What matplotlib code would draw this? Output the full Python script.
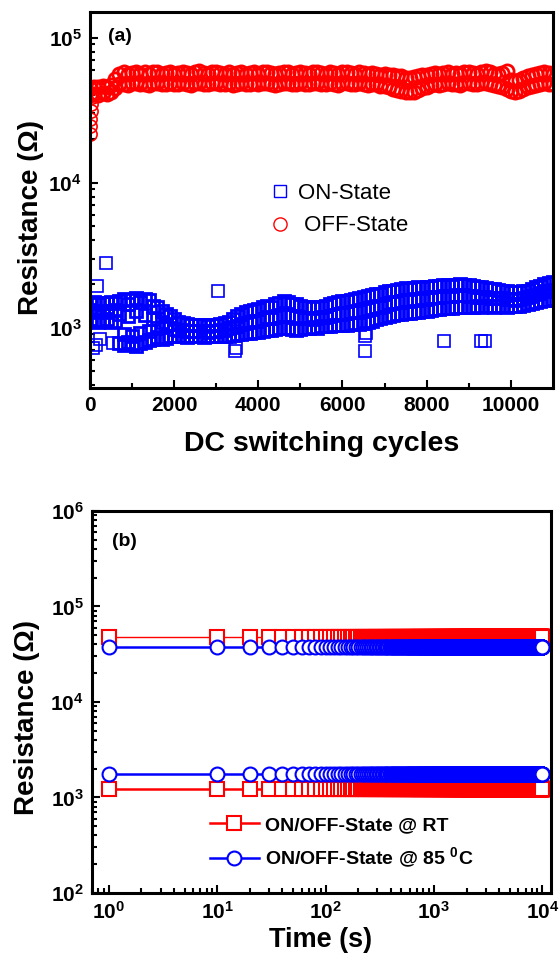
import numpy as np
import matplotlib
matplotlib.use('Agg')
import matplotlib.pyplot as plt
from matplotlib.ticker import FixedLocator, FuncFormatter, LogLocator, NullFormatter

plt.rcParams['font.family'] = ['Liberation Sans', 'DejaVu Sans']
plt.rcParams['mathtext.fontset'] = 'custom'
plt.rcParams['mathtext.rm'] = 'Liberation Sans:bold'
plt.rcParams['mathtext.bf'] = 'Liberation Sans:bold'
plt.rcParams['mathtext.it'] = 'Liberation Sans:bold'

# ---- (a) DC endurance, read every 100 cycles (upper / middle / lower part of the band)
cycles = np.arange(0, 11001, 100)

on_hi = [1480, 1500, 1460, 1490, 1470, 1500, 1480,
         1520, 1580, 1450, 1560, 1600, 1500, 1580, 1550,
         1420, 1380, 1300, 1250, 1200,
         1150, 1100, 1080, 1060, 1050, 1040, 1050, 1040, 1030, 1040, 1050, 1060, 1080,
         1100, 1150, 1200, 1250, 1280, 1300, 1320, 1350,
         1380, 1420, 1400, 1450, 1480, 1520, 1500, 1460, 1450, 1420,
         1400, 1380, 1370, 1390, 1400, 1420, 1450, 1480, 1500, 1520,
         1540, 1560, 1580, 1600, 1620, 1650, 1680, 1700, 1720, 1750,
         1780, 1800, 1820, 1850, 1870, 1860, 1880, 1900, 1880, 1900,
         1920, 1950, 1940, 1960, 1980, 1950, 1970, 2000, 1980, 1960,
         1940, 1920, 1900, 1880, 1860, 1840, 1820, 1800, 1780, 1760,
         1750, 1760, 1780, 1800, 1850, 1900, 1950, 2000, 2020, 2050]
on_mid = [1320, 1300, 1280, 1310, 1290, 1300, 1320,
          1250, 900, 1200, 880, 1300, 920, 1220, 950,
          1150, 1000, 1100, 1040, 1060,
          980, 970, 960, 955, 950, 945, 950, 945, 940, 950, 955, 960, 970,
          990, 1010, 1030, 1060, 1080, 1100, 1110, 1120,
          1150, 1180, 1170, 1190, 1210, 1230, 1220, 1200, 1190, 1180,
          1170, 1160, 1150, 1170, 1180, 1190, 1200, 1220, 1240, 1250,
          1260, 1280, 1290, 1300, 1320, 1340, 1360, 1380, 1400, 1420,
          1480, 1500, 1510, 1530, 1550, 1560, 1570, 1580, 1590, 1600,
          1620, 1640, 1630, 1650, 1660, 1650, 1670, 1680, 1670, 1660,
          1650, 1640, 1630, 1620, 1610, 1600, 1600, 1590, 1580, 1570,
          1560, 1570, 1590, 1620, 1660, 1700, 1740, 1780, 1800, 1820]
on_lo = [1150, 1120, 1100, 1130, 1140, 1100, 1120,
         780, 760, 800, 770, 750, 790, 800, 820,
         840, 860, 830, 850, 870,
         880, 870, 870, 860, 870, 880, 870, 860, 870, 880, 870, 880, 880,
         880, 890, 900, 910, 920, 920, 930, 940,
         950, 970, 960, 980, 990, 1000, 990, 980, 970, 980,
         990, 1000, 1010, 1000, 1020, 1030, 1020, 1040, 1050, 1040,
         1050, 1060, 1070, 1060, 1080, 1100, 1120, 1140, 1160, 1180,
         1200, 1220, 1240, 1250, 1260, 1270, 1280, 1290, 1300, 1310,
         1330, 1340, 1350, 1360, 1370, 1360, 1380, 1390, 1400, 1390,
         1400, 1410, 1400, 1420, 1410, 1400, 1410, 1420, 1400, 1410,
         1410, 1420, 1430, 1450, 1480, 1500, 1520, 1550, 1560, 1580]

# stray ON-state points
on_out_cycles = [60, 150, 240, 540, 165, 380, 3050, 3440, 3460, 6540, 6540, 6560, 8410, 9300, 9390]
on_out_values = [720, 760, 830, 790, 1950, 2800, 1800, 690, 720, 690, 880, 920, 815, 815, 815]

off_hi = [45000, 46000, 45500, 46500, 46000, 47000,
          52000,
          56500, 57500, 56000, 57000, 58000, 56500, 57500, 56000, 57500, 58000, 56500, 57000, 58000,
          56500, 57000, 58000, 57000, 56000, 57500, 58500, 57000, 56500, 57500,
          58000, 57000, 56500, 57500, 56000, 57000, 58000, 56500, 57000, 57500,
          56500, 57500, 58000, 57000, 56000, 57000, 58000, 57500, 56500, 57000,
          58000, 57000, 56500, 57500, 58000, 57000, 56500, 57500, 57000, 56000,
          57500, 58000, 57000, 56500, 57500, 57000, 56000, 57000, 56500, 55500,
          56000, 55000, 55500, 54500, 54000, 53000, 52500, 53500, 54000, 55000,
          55500, 56500, 57000, 56000, 57000, 57500, 56500, 57000, 56000, 57500,
          58000, 57000, 56500, 57500, 58500, 57500, 56000, 56500, 57000, 58500,
          51000, 50000, 51000, 52500, 54000, 55500, 56500, 57000, 57500, 57000, 56000]
off_lo = [40000, 41000, 40500, 41500, 41000, 42000,
          45000,
          47500, 48000, 47000, 48500, 49000, 47500, 48000, 47000, 48500, 49000, 47500, 48000, 48500,
          47500, 48000, 49000, 48000, 47000, 48500, 49000, 48000, 47500, 48500,
          49000, 48000, 47500, 48500, 47000, 48000, 49000, 47500, 48000, 48500,
          47500, 48500, 49000, 48000, 47000, 48000, 49000, 48500, 47500, 48000,
          49000, 48000, 47500, 48500, 49000, 48000, 47500, 48500, 48000, 47000,
          48500, 49000, 48000, 47500, 48500, 48000, 47000, 48000, 47500, 46500,
          46500, 45500, 44500, 43500, 43000, 42500, 42000, 42500, 43500, 45000,
          46000, 47000, 48000, 47000, 48000, 48500, 47500, 48000, 47000, 48500,
          49000, 48000, 47500, 48500, 49000, 48000, 47000, 46500, 45500, 44500,
          43000, 42500, 43000, 44000, 45500, 46500, 47000, 48000, 48500, 48000, 47500]

# first cycles of the OFF state (forming transient)
off_start_cycles = [0, 5, 10, 20, 30, 50]
off_start_values = [21500, 24500, 27500, 31000, 35000, 39000]

# ---- (b) retention
ret_time = np.concatenate([[1], np.arange(10, 10001, 10)])
rt_off_level = 48000
rt_on_level = 1230
ht_off_level = 38000
ht_on_level = 1780


def pow10_label(v, pos):
    return r'$10^{%d}$' % int(round(np.log10(v)))


def style_axis(ax):
    for sp in ax.spines.values():
        sp.set_linewidth(2.2)
    ax.tick_params(which='both', direction='in', top=False, right=False, width=1.5, labelsize=15)
    ax.tick_params(which='major', length=6, pad=6)
    ax.tick_params(which='minor', length=3.5)
    for lab in ax.get_xticklabels() + ax.get_yticklabels():
        lab.set_fontweight('bold')


fig = plt.figure(figsize=(5.59, 9.6), dpi=100)

# panel (a)
ax1 = fig.add_axes([0.161, 0.596, 0.828, 0.391])
ax1.set_yscale('log')
sq = dict(ls='none', marker='s', ms=8.5, mfc='none', mec='blue', mew=2.0)
ci = dict(ls='none', marker='o', ms=9.5, mfc='none', mec='red', mew=2.0)
ax1.plot(cycles, on_mid, label='ON-State', **sq)
ax1.plot(cycles, on_hi, **sq)
ax1.plot(cycles, on_lo, **sq)
ax1.plot(on_out_cycles, on_out_values, ls='none', marker='s', ms=8.5,
         mfc='none', mec='blue', mew=1.2)
ax1.plot(cycles, off_hi, label=' OFF-State', **ci)
ax1.plot(cycles, off_lo, **ci)
ax1.plot(off_start_cycles, off_start_values, ls='none', marker='o', ms=9.5,
         mfc='none', mec='red', mew=1.2)

ax1.set_xlim(0, 11000)
ax1.set_ylim(385, 1.49e5)
ax1.xaxis.set_major_locator(FixedLocator([0, 2000, 4000, 6000, 8000, 10000]))
ax1.xaxis.set_minor_locator(FixedLocator([1000, 3000, 5000, 7000, 9000]))
ax1.yaxis.set_major_locator(LogLocator(base=10))
ax1.yaxis.set_minor_locator(LogLocator(base=10, subs=np.arange(2, 10)))
ax1.yaxis.set_major_formatter(FuncFormatter(pow10_label))
ax1.yaxis.set_minor_formatter(NullFormatter())
style_axis(ax1)

ax1.set_xlabel('DC switching cycles', fontsize=20.5, fontweight='bold')
ax1.xaxis.set_label_coords(0.5, -0.115)
ax1.set_ylabel('Resistance (\u03a9)', fontsize=20, fontweight='bold')
ax1.yaxis.set_label_coords(-0.10, 0.453)
ax1.text(0.039, 0.936, '(a)', transform=ax1.transAxes, fontsize=14,
         fontweight='bold', va='center', ha='left')
leg1 = ax1.legend(loc='upper left', bbox_to_anchor=(0.387, 0.545), frameon=False,
                  prop={'size': 16}, handlelength=1.0, handletextpad=0.3,
                  borderpad=0, borderaxespad=0, labelspacing=0.5, numpoints=1)
for h in leg1.legend_handles:
    h.set_markeredgewidth(1.0)

# panel (b)
ax2 = fig.add_axes([0.1646, 0.0698, 0.821, 0.398])
ax2.set_xscale('log')
ax2.set_yscale('log')
rs = dict(marker='s', ms=9.5, mfc='white', mec='red', mew=1.5, color='red')
bc = dict(marker='o', ms=10, mfc='white', mec='blue', mew=1.5, color='blue')
ax2.plot(ret_time, np.full(len(ret_time), rt_off_level), lw=1.0, **rs)
ax2.plot(ret_time, np.full(len(ret_time), rt_on_level), lw=1.8,
         label='ON/OFF-State @ RT', **rs)
ax2.plot(ret_time, np.full(len(ret_time), ht_off_level), lw=1.8, **bc)
ax2.plot(ret_time, np.full(len(ret_time), ht_on_level), lw=1.8,
         label=r'ON/OFF-State @ 85 $^{0}$C', **bc)

ax2.set_xlim(0.7, 1.2e4)
ax2.set_ylim(1e2, 1e6)
for axis in (ax2.xaxis, ax2.yaxis):
    axis.set_major_locator(LogLocator(base=10))
    axis.set_minor_locator(LogLocator(base=10, subs=np.arange(2, 10)))
    axis.set_major_formatter(FuncFormatter(pow10_label))
    axis.set_minor_formatter(NullFormatter())
style_axis(ax2)

ax2.set_xlabel('Time (s)', fontsize=19.5, fontweight='bold')
ax2.xaxis.set_label_coords(0.497, -0.088)
ax2.set_ylabel('Resistance (\u03a9)', fontsize=20, fontweight='bold')
ax2.yaxis.set_label_coords(-0.113, 0.458)
ax2.text(0.044, 0.921, '(b)', transform=ax2.transAxes, fontsize=14,
         fontweight='bold', va='center', ha='left')
ax2.legend(loc='upper left', bbox_to_anchor=(0.257, 0.20), frameon=False,
           prop={'size': 14, 'weight': 'bold'}, handlelength=2.5, handletextpad=0.35,
           borderpad=0, borderaxespad=0, labelspacing=0.6, numpoints=1)

fig.savefig('out.png', dpi=100)
